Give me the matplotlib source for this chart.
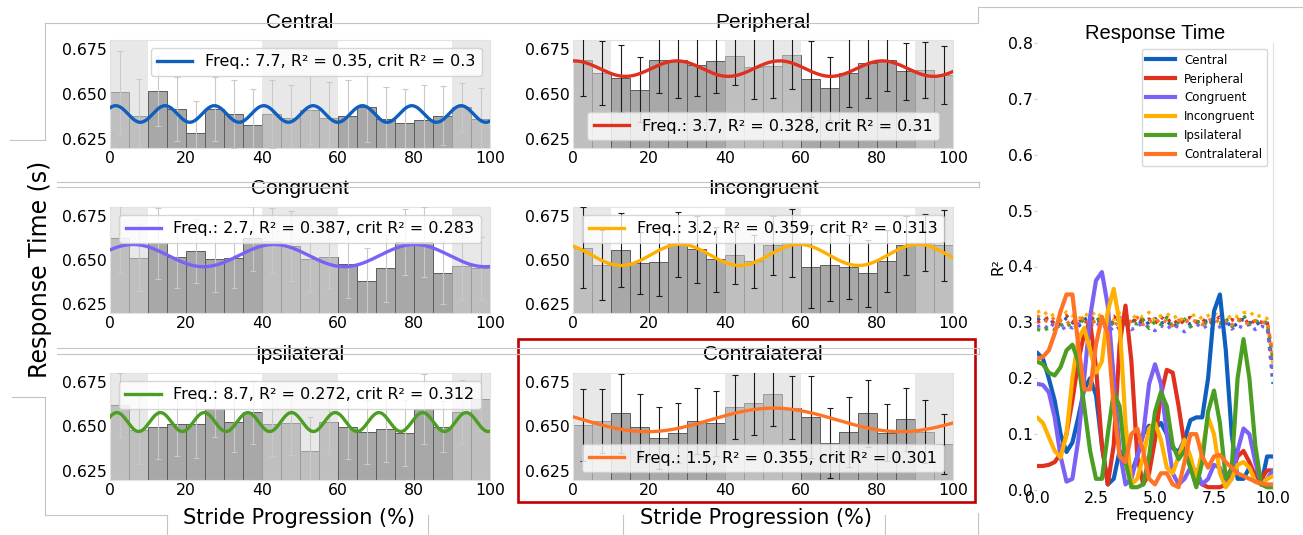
import numpy as np
import matplotlib
matplotlib.use("Agg")
import matplotlib.pyplot as plt
from matplotlib.lines import Line2D
from matplotlib.patches import Rectangle

# ---- response time per 5% stride bin ----
stride_bins = [0, 5, 10, 15, 20, 25, 30, 35, 40, 45, 50, 55, 60, 65, 70, 75, 80, 85, 90, 95]

central_rt = [0.651, 0.6376, 0.6515, 0.6417, 0.6283, 0.6417, 0.6389, 0.633, 0.639, 0.6365,
              0.641, 0.6367, 0.638, 0.6426, 0.6361, 0.6339, 0.6354, 0.638, 0.6426, 0.6361]
central_err = [0.023, 0.021, 0.0195, 0.018, 0.018, 0.018, 0.019, 0.02, 0.019, 0.0185,
               0.019, 0.02, 0.02, 0.019, 0.018, 0.019, 0.0196, 0.0163, 0.0135, 0.017]

peripheral_rt = [0.6689, 0.6617, 0.6587, 0.6524, 0.669, 0.669, 0.666, 0.6685, 0.6711, 0.6648,
                 0.6657, 0.6718, 0.6583, 0.6531, 0.6617, 0.6672, 0.669, 0.6626, 0.6633, 0.6605]
peripheral_err = [0.0202, 0.0176, 0.0185, 0.018, 0.0184, 0.021, 0.017, 0.018, 0.016, 0.0176,
                  0.018, 0.019, 0.021, 0.0175, 0.019, 0.0194, 0.0173, 0.016, 0.0155, 0.016]

congruent_rt = [0.6626, 0.6513, 0.6594, 0.6519, 0.6551, 0.6508, 0.6513, 0.6626, 0.661, 0.6579,
                0.6508, 0.6519, 0.6476, 0.6382, 0.6453, 0.6601, 0.6601, 0.6429, 0.6466, 0.6452]
congruent_err = [0.02, 0.019, 0.02, 0.018, 0.018, 0.019, 0.017, 0.019, 0.0185, 0.02,
                 0.019, 0.018, 0.019, 0.0185, 0.019, 0.0185, 0.02, 0.018, 0.019, 0.018]

incongruent_rt = [0.657, 0.647, 0.6556, 0.6481, 0.6491, 0.6588, 0.656, 0.6504, 0.6526, 0.6493,
                  0.6583, 0.6594, 0.6463, 0.647, 0.6461, 0.6425, 0.6494, 0.6583, 0.6598, 0.6583]
incongruent_err = [0.023, 0.0197, 0.021, 0.0176, 0.0196, 0.0182, 0.019, 0.0184, 0.0163, 0.015,
                   0.0166, 0.0193, 0.0234, 0.02, 0.018, 0.019, 0.0174, 0.0168, 0.016, 0.02]

ipsilateral_rt = [0.662, 0.6482, 0.650, 0.6513, 0.6513, 0.6598, 0.6524, 0.658, 0.6513, 0.652,
                  0.6362, 0.6524, 0.650, 0.6469, 0.6485, 0.6463, 0.6598, 0.650, 0.658, 0.6657]
ipsilateral_err = [0.018, 0.019, 0.018, 0.018, 0.019, 0.0157, 0.0165, 0.0177, 0.018, 0.018,
                   0.0193, 0.018, 0.018, 0.018, 0.0184, 0.0184, 0.0194, 0.0141, 0.018, 0.0185]

contralateral_rt = [0.6508, 0.6532, 0.6575, 0.6498, 0.6435, 0.6463, 0.6532, 0.6517, 0.661, 0.6631,
                    0.6681, 0.6606, 0.6554, 0.6407, 0.647, 0.6573, 0.6464, 0.6541, 0.647, 0.6402]
contralateral_err = [0.02, 0.018, 0.0221, 0.0183, 0.0175, 0.017, 0.0186, 0.018, 0.018, 0.0177,
                     0.018, 0.0176, 0.023, 0.0194, 0.0197, 0.019, 0.016, 0.0177, 0.0177, 0.0168]

# ---- best sinusoid fit per condition ----
conditions = ["Central", "Peripheral", "Congruent", "Incongruent", "Ipsilateral", "Contralateral"]
colors = ["#0f5fbf", "#e0301e", "#7b61f5", "#ffb000", "#4c9e23", "#ff7424"]
fit_freq = [7.7, 3.7, 2.7, 3.2, 8.7, 1.5]
fit_r2 = [0.35, 0.328, 0.387, 0.359, 0.272, 0.355]
fit_crit = [0.3, 0.31, 0.283, 0.313, 0.312, 0.301]
fit_mean = [0.6389, 0.6641, 0.6525, 0.6529, 0.6525, 0.6537]
fit_amp = [0.0046, 0.0043, 0.0063, 0.006, 0.0053, 0.0066]
fit_peak = [1.5, 0.3, 6.1, -3.0, 1.8, 52.8]
legend_loc = ["upper right", "lower center", "upper center", "upper center", "upper center", "lower center"]

# ---- R^2 spectrum (0-10 cycles per stride, 0.25 steps) ----
spec_freq = np.linspace(0, 10, 41)

central_spec = [0.246, 0.235, 0.2, 0.16, 0.1, 0.068, 0.085, 0.13, 0.18, 0.2, 0.17, 0.08, 0.01, 0.02,
                0.07, 0.06, 0.03, 0.06, 0.1, 0.115, 0.11, 0.12, 0.1, 0.075, 0.068, 0.09, 0.125, 0.13,
                0.13, 0.2, 0.32, 0.35, 0.25, 0.1, 0.02, 0.02, 0.04, 0.03, 0.01, 0.06, 0.06]
peripheral_spec = [0.043, 0.043, 0.045, 0.05, 0.065, 0.1, 0.16, 0.23, 0.28, 0.3, 0.22, 0.08, 0.01,
                   0.08, 0.26, 0.33, 0.23, 0.06, 0.01, 0.03, 0.09, 0.17, 0.215, 0.21, 0.15, 0.08,
                   0.04, 0.02, 0.01, 0.005, 0.005, 0.005, 0.01, 0.03, 0.06, 0.07, 0.05, 0.025, 0.02,
                   0.035, 0.035]
congruent_spec = [0.19, 0.188, 0.175, 0.13, 0.06, 0.015, 0.02, 0.09, 0.2, 0.31, 0.375, 0.39, 0.33,
                  0.2, 0.07, 0.01, 0.02, 0.06, 0.1, 0.19, 0.225, 0.19, 0.1, 0.03, 0.01, 0.02, 0.04,
                  0.035, 0.01, 0.02, 0.045, 0.04, 0.01, 0.02, 0.07, 0.11, 0.1, 0.05, 0.01, 0.02, 0.035]
incongruent_spec = [0.13, 0.12, 0.095, 0.07, 0.058, 0.1, 0.2, 0.27, 0.29, 0.25, 0.21, 0.23, 0.32,
                    0.36, 0.3, 0.12, 0.01, 0.02, 0.06, 0.11, 0.12, 0.09, 0.04, 0.03, 0.06, 0.09,
                    0.06, 0.02, 0.07, 0.13, 0.1, 0.03, 0.005, 0.02, 0.045, 0.05, 0.04, 0.015, 0.01,
                    0.02, 0.025]
ipsilateral_spec = [0.23, 0.225, 0.21, 0.205, 0.22, 0.25, 0.26, 0.23, 0.15, 0.07, 0.02, 0.02, 0.1,
                    0.175, 0.15, 0.05, 0.005, 0.005, 0.01, 0.06, 0.14, 0.175, 0.15, 0.08, 0.055,
                    0.07, 0.04, 0.005, 0.05, 0.14, 0.178, 0.12, 0.02, 0.04, 0.2, 0.27, 0.2, 0.08,
                    0.01, 0.005, 0.005]
contralateral_spec = [0.235, 0.238, 0.25, 0.28, 0.32, 0.35, 0.35, 0.26, 0.18, 0.18, 0.26, 0.31,
                      0.28, 0.15, 0.06, 0.05, 0.1, 0.11, 0.07, 0.02, 0.01, 0.03, 0.03, 0.01, 0.005,
                      0.05, 0.1, 0.1, 0.06, 0.04, 0.06, 0.063, 0.05, 0.04, 0.03, 0.025, 0.02, 0.015,
                      0.012, 0.01, 0.01]

# permutation-based critical R^2 at each frequency
central_crit = [0.305, 0.310, 0.298, 0.303, 0.296, 0.308, 0.300, 0.292, 0.305, 0.311, 0.299, 0.304,
                0.293, 0.302, 0.309, 0.297, 0.301, 0.306, 0.295, 0.300, 0.307, 0.298, 0.303, 0.291,
                0.300, 0.305, 0.296, 0.302, 0.299, 0.304, 0.300, 0.297, 0.303, 0.291, 0.298, 0.306,
                0.300, 0.295, 0.302, 0.298, 0.190]
peripheral_crit = [0.300, 0.304, 0.309, 0.297, 0.306, 0.312, 0.301, 0.307, 0.296, 0.310, 0.303,
                   0.299, 0.308, 0.311, 0.300, 0.305, 0.296, 0.309, 0.302, 0.306, 0.298, 0.310,
                   0.301, 0.307, 0.295, 0.304, 0.309, 0.300, 0.306, 0.297, 0.303, 0.310, 0.299,
                   0.305, 0.301, 0.308, 0.296, 0.304, 0.300, 0.303, 0.215]
congruent_crit = [0.292, 0.296, 0.288, 0.300, 0.285, 0.294, 0.290, 0.298, 0.286, 0.293, 0.301,
                  0.289, 0.295, 0.284, 0.292, 0.297, 0.287, 0.293, 0.299, 0.290, 0.285, 0.294,
                  0.288, 0.296, 0.291, 0.283, 0.293, 0.298, 0.289, 0.295, 0.286, 0.292, 0.300,
                  0.288, 0.294, 0.290, 0.297, 0.287, 0.293, 0.291, 0.205]
incongruent_crit = [0.318, 0.322, 0.310, 0.315, 0.307, 0.319, 0.312, 0.305, 0.316, 0.310, 0.320,
                    0.308, 0.313, 0.304, 0.317, 0.311, 0.306, 0.314, 0.309, 0.318, 0.303, 0.312,
                    0.316, 0.307, 0.313, 0.298, 0.310, 0.315, 0.306, 0.312, 0.318, 0.308, 0.303,
                    0.314, 0.310, 0.317, 0.320, 0.309, 0.313, 0.307, 0.225]
ipsilateral_crit = [0.288, 0.284, 0.291, 0.287, 0.294, 0.300, 0.289, 0.296, 0.305, 0.292, 0.310,
                    0.298, 0.303, 0.295, 0.308, 0.291, 0.300, 0.297, 0.305, 0.289, 0.302, 0.296,
                    0.309, 0.293, 0.300, 0.306, 0.292, 0.299, 0.304, 0.294, 0.301, 0.298, 0.307,
                    0.293, 0.300, 0.313, 0.296, 0.303, 0.299, 0.301, 0.235]
contralateral_crit = [0.312, 0.306, 0.300, 0.309, 0.303, 0.297, 0.306, 0.301, 0.310, 0.295, 0.304,
                      0.299, 0.307, 0.300, 0.294, 0.305, 0.301, 0.309, 0.296, 0.303, 0.298, 0.307,
                      0.300, 0.294, 0.304, 0.299, 0.306, 0.301, 0.296, 0.303, 0.308, 0.298, 0.302,
                      0.295, 0.305, 0.300, 0.297, 0.303, 0.299, 0.301, 0.245]

rt_means = [central_rt, peripheral_rt, congruent_rt, incongruent_rt, ipsilateral_rt, contralateral_rt]
rt_errs = [central_err, peripheral_err, congruent_err, incongruent_err, ipsilateral_err, contralateral_err]
spectra = [central_spec, peripheral_spec, congruent_spec, incongruent_spec, ipsilateral_spec, contralateral_spec]
crits = [central_crit, peripheral_crit, congruent_crit, incongruent_crit, ipsilateral_crit, contralateral_crit]

W, H = 1303, 535
fig = plt.figure(figsize=(W / 100, H / 100), dpi=100)


def box(l, t, r, b):
    return [l / W, 1 - b / H, (r - l) / W, (b - t) / H]


def fline(xs, ys, **kw):
    fig.add_artist(Line2D([x / W for x in xs], [1 - y / H for y in ys],
                          transform=fig.transFigure, color="#c4c4c4", lw=0.8, **kw))


# thin panel outlines behind everything
fline([45, 978], [23, 23]); fline([978, 978], [7, 23]); fline([978, 1303], [7, 7])
fline([45, 45], [23, 140]); fline([10, 45], [140, 140])
fline([57, 979], [182, 182]); fline([57, 979], [187, 187]); fline([979, 979], [182, 187])
fline([57, 979], [348, 348]); fline([57, 979], [354, 354]); fline([979, 979], [348, 354])
fline([45, 45], [397, 515]); fline([12, 45], [397, 397]); fline([45, 167], [515, 515])
fline([167, 167], [515, 535]); fline([428, 428], [515, 535]); fline([623, 623], [515, 535])
fline([885, 885], [515, 535]); fline([978, 978], [513, 535])

positions = [(110, 40, 490, 148), (573, 40, 953, 148),
             (110, 207, 490, 313), (573, 207, 953, 313),
             (110, 373, 490, 480), (573, 373, 953, 480)]
shaded = [(0, 10), (40, 60), (90, 100)]
xs = np.linspace(0, 100, 400)
bin_centers = np.array(stride_bins) + 2.5

for i, name in enumerate(conditions):
    ax = fig.add_axes(box(*positions[i]))
    ax.bar(stride_bins, rt_means[i], width=5, align="edge", color="#a8a8a8",
           edgecolor="#5c5c5c", linewidth=0.7, zorder=1)
    for a, b in shaded:
        ax.axvspan(a, b, color="#d4d4d4", alpha=0.53, lw=0, zorder=2)
    ecol = "#c9c9c9" if i % 2 == 0 else "#1a1a1a"
    ax.errorbar(bin_centers, rt_means[i], yerr=rt_errs[i], fmt="none", ecolor=ecol,
                elinewidth=0.8, capsize=2.5, capthick=0.8, zorder=3)
    fit = fit_mean[i] + fit_amp[i] * np.cos(2 * np.pi * fit_freq[i] * (xs - fit_peak[i]) / 100)
    ax.plot(xs, fit, color=colors[i], lw=2.4, zorder=4,
            label=f"Freq.: {fit_freq[i]}, R\u00b2 = {fit_r2[i]}, crit R\u00b2 = {fit_crit[i]}")
    ax.set_xlim(0, 100)
    ax.set_ylim(0.62, 0.68)
    ax.set_xticks([0, 20, 40, 60, 80, 100])
    ax.set_yticks([0.625, 0.65, 0.675])
    ax.yaxis.set_major_formatter("{x:.3f}")
    ax.tick_params(length=0, pad=2, labelsize=11.3)
    for s in ax.spines.values():
        s.set_color("#e2e2e2")
        s.set_linewidth(0.8)
    ax.set_title(name, fontsize=15, family="Liberation Sans", pad=9)
    ax.legend(loc=legend_loc[i], fontsize=11.5, handlelength=2.2, borderpad=0.4)

fig.text(40 / W, 1 - 269 / H, "Response Time (s)", rotation=90, ha="center", va="center", fontsize=17)
fig.text(299 / W, 1 - 518 / H, "Stride Progression (%)", ha="center", va="center", fontsize=15)
fig.text(756 / W, 1 - 518 / H, "Stride Progression (%)", ha="center", va="center", fontsize=15)

# highlight box around the contralateral panel
fig.add_artist(Rectangle((518 / W, 1 - 502 / H), (975 - 518) / W, (502 - 339) / H,
                         transform=fig.transFigure, fill=False, edgecolor="#c00000", lw=1.9))

# ---- spectrum panel ----
axr = fig.add_axes(box(1037, 43, 1273, 490))
for i, name in enumerate(conditions):
    axr.plot(spec_freq, crits[i], ":", color=colors[i], lw=2.4, zorder=1)
for i, name in enumerate(conditions):
    axr.plot(spec_freq, spectra[i], color=colors[i], lw=3, zorder=2,
             solid_capstyle="round", solid_joinstyle="round")
axr.set_xlim(0, 10)
axr.set_ylim(0, 0.8)
axr.set_xticks([0, 2.5, 5, 7.5, 10])
axr.set_xticklabels(["0.0", "2.5", "5.0", "7.5", "10.0"])
axr.set_yticks([0, 0.1, 0.2, 0.3, 0.4, 0.5, 0.6, 0.7, 0.8])
axr.yaxis.set_major_formatter("{x:.1f}")
axr.tick_params(axis="both", labelsize=11.3, pad=1)
axr.tick_params(axis="y", length=2, color="#d0d0d0")
axr.tick_params(axis="x", length=0)
for side in ["left", "top", "bottom"]:
    axr.spines[side].set_visible(False)
axr.spines["right"].set_color("#e2e2e2")
axr.set_xlabel("Frequency", fontsize=11, labelpad=1)
axr.set_ylabel("R\u00b2", fontsize=11, labelpad=2)
axr.set_title("Response Time", fontsize=14.5, family="Liberation Sans", pad=3)
handles = [Line2D([], [], color=c, lw=3) for c in colors]
axr.legend(handles, conditions, loc="upper right", fontsize=8.5, handlelength=2.4)

fig.savefig("out.png", dpi=100)
